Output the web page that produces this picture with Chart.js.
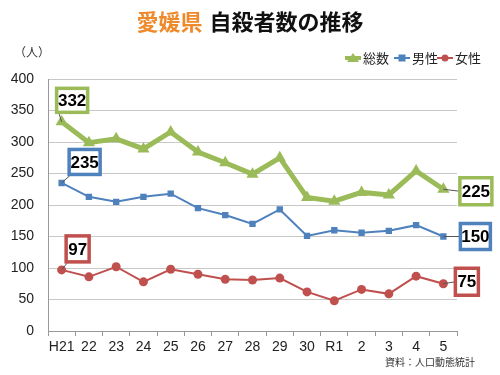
<!DOCTYPE html>
<html>
<head>
<meta charset="utf-8">
<script src="https://cdn.jsdelivr.net/npm/chart.js@4"></script>
<style>
  body { margin: 0; background: #fff; }
  #wrap { position: relative; width: 500px; height: 375px; }
</style>
</head>
<body>
<div id="wrap"><canvas id="chart" width="500" height="375"></canvas></div>
<script>
const years = ['H21', '22', '23', '24', '25', '26', '27', '28', '29', '30', 'R1', '2', '3', '4', '5'];
const total = [332, 299, 305, 289, 316, 284, 267, 249, 275, 212, 206, 220, 216, 254, 225];
const male = [235, 213, 205, 213, 218, 195, 184, 170, 193, 151, 160, 156, 159, 168, 150];
const female = [97, 86, 102, 78, 98, 90, 82, 81, 84, 62, 48, 66, 59, 87, 75];
const yTicks = [0, 50, 100, 150, 200, 250, 300, 350, 400];

const GREEN = '#9bbb59', BLUE = '#4f81bd', RED = '#c0504d';
const JP = '"Noto Sans CJK JP", sans-serif';
const LAT = '"Liberation Sans", Arial, sans-serif';

// value callouts at first and last points
const callouts = [
  { ds: 0, idx: 0, dx: 10.5, dy: -21.5, w: 31, h: 24, color: GREEN },
  { ds: 1, idx: 0, dx: 23, dy: -21, w: 31, h: 25, color: BLUE },
  { ds: 2, idx: 0, dx: 16, dy: -21, w: 23, h: 26, color: RED },
  { ds: 0, idx: 14, dx: 32.5, dy: 2, w: 32, h: 27, color: GREEN },
  { ds: 1, idx: 14, dx: 32, dy: 0, w: 30, h: 26, color: BLUE },
  { ds: 2, idx: 14, dx: 23.5, dy: -2, w: 23, h: 27, color: RED }
];

const extras = {
  id: 'extras',
  afterDatasetsDraw(chart) {
    const ctx = chart.ctx;
    ctx.save();
    callouts.forEach(c => {
      const pt = chart.getDatasetMeta(c.ds).data[c.idx];
      const v = chart.data.datasets[c.ds].data[c.idx];
      const cx = pt.x + c.dx, cy = pt.y + c.dy;
      // leader line
      ctx.strokeStyle = '#555';
      ctx.lineWidth = 1;
      ctx.beginPath();
      ctx.moveTo(pt.x, pt.y);
      if (c.idx > 0) {
        ctx.lineTo(cx - c.w / 2, cy);
      } else {
        ctx.lineTo(cx - c.w / 2 + 2, cy + c.h / 2);
      }
      ctx.stroke();
      ctx.fillStyle = '#fff';
      ctx.fillRect(cx - c.w / 2, cy - c.h / 2, c.w, c.h);
      ctx.strokeStyle = c.color;
      ctx.lineWidth = 3.5;
      ctx.strokeRect(cx - c.w / 2, cy - c.h / 2, c.w, c.h);
      ctx.fillStyle = '#000';
      ctx.font = 'bold 17px ' + LAT;
      ctx.textAlign = 'center';
      ctx.textBaseline = 'middle';
      ctx.fillText(String(v), cx, cy + 1);
    });
    ctx.restore();
  },
  afterDraw(chart) {
    const ctx = chart.ctx;
    ctx.save();
    // title
    ctx.font = 'bold 22px ' + JP;
    ctx.textBaseline = 'middle';
    ctx.textAlign = 'left';
    const t1 = '愛媛県', t2 = '自殺者数の推移';
    const w1 = ctx.measureText(t1).width, w2 = ctx.measureText(t2).width;
    const x0 = 250 - (w1 + 7 + w2) / 2;
    ctx.fillStyle = '#ef8a2c';
    ctx.fillText(t1, x0, 22);
    ctx.fillStyle = '#111';
    ctx.fillText(t2, x0 + w1 + 7, 22);
    // unit
    ctx.font = '12px ' + JP;
    ctx.fillStyle = '#333';
    ctx.fillText('（人）', 14, 52);
    // legend
    const items = [
      { label: '総数', color: GREEN, style: 'triangle', x: 345, lw: 4 },
      { label: '男性', color: BLUE, style: 'rect', x: 394, lw: 2 },
      { label: '女性', color: RED, style: 'circle', x: 437, lw: 2 }
    ];
    const ly = 58;
    items.forEach(it => {
      ctx.strokeStyle = it.color;
      ctx.fillStyle = it.color;
      ctx.lineWidth = it.lw;
      ctx.beginPath();
      ctx.moveTo(it.x, ly);
      ctx.lineTo(it.x + 16, ly);
      ctx.stroke();
      const mx = it.x + 8;
      ctx.beginPath();
      if (it.style === 'triangle') {
        ctx.moveTo(mx, ly - 5);
        ctx.lineTo(mx + 6, ly + 4);
        ctx.lineTo(mx - 6, ly + 4);
        ctx.closePath();
      } else if (it.style === 'rect') {
        ctx.rect(mx - 3.5, ly - 3.5, 7, 7);
      } else {
        ctx.arc(mx, ly, 3.5, 0, Math.PI * 2);
      }
      ctx.fill();
      ctx.fillStyle = '#222';
      ctx.font = '13px ' + JP;
      ctx.fillText(it.label, it.x + 18, ly);
    });
    // source
    ctx.font = '10px ' + JP;
    ctx.fillStyle = '#333';
    ctx.fillText('資料：人口動態統計', 385, 362);
    ctx.restore();
  }
};

new Chart(document.getElementById('chart'), {
  type: 'line',
  data: {
    labels: years,
    datasets: [
      { label: '総数', data: total, borderColor: GREEN, backgroundColor: GREEN, borderWidth: 5,
        pointStyle: 'triangle', pointRadius: 7, pointBorderWidth: 0, tension: 0 },
      { label: '男性', data: male, borderColor: BLUE, backgroundColor: BLUE, borderWidth: 2,
        pointStyle: 'rect', pointRadius: 4.5, pointBorderWidth: 0, tension: 0 },
      { label: '女性', data: female, borderColor: RED, backgroundColor: RED, borderWidth: 2,
        pointStyle: 'circle', pointRadius: 4.5, pointBorderWidth: 0, tension: 0 }
    ]
  },
  options: {
    responsive: false,
    animation: false,
    layout: { padding: { left: 0, right: 43, top: 79, bottom: 0 } },
    plugins: { legend: { display: false }, title: { display: false }, tooltip: { enabled: false } },
    scales: {
      x: {
        offset: true,
        grid: { offset: true, drawOnChartArea: false, color: '#999', tickLength: 5 },
        border: { color: '#999' },
        ticks: { color: '#222', font: { family: LAT, size: 14 }, padding: 3, maxRotation: 0, autoSkip: false },
        afterFit: s => { s.height = 44; }
      },
      y: {
        min: 0, max: 400,
        afterBuildTicks: s => { s.ticks = yTicks.map(v => ({ value: v })); },
        grid: { color: '#c8c8c8', drawTicks: false },
        border: { color: '#999' },
        ticks: { color: '#222', font: { family: LAT, size: 14 }, padding: 14 },
        afterFit: s => { s.width = 48; }
      }
    }
  },
  plugins: [extras]
});
</script>
</body>
</html>
